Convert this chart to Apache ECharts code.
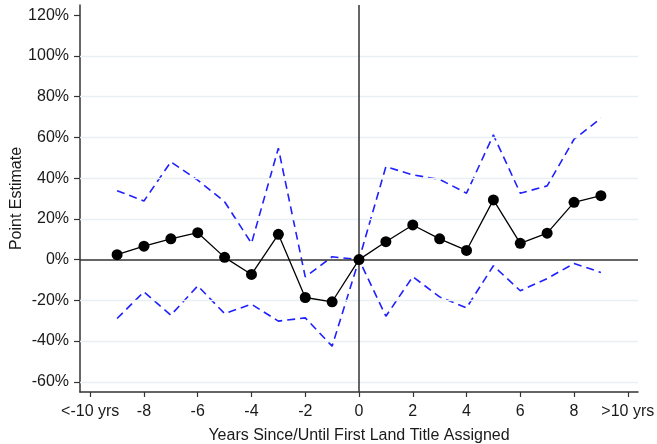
<!DOCTYPE html>
<html>
<head>
<meta charset="utf-8">
<script src="https://cdn.jsdelivr.net/npm/echarts@6/dist/echarts.min.js"></script>
<style>html,body{margin:0;padding:0;background:#fff}#c{width:657px;height:444px}</style>
</head>
<body>
<div id="c"></div>
<script>
const years = [-9,-8,-7,-6,-5,-4,-3,-2,-1,0,1,2,3,4,5,6,7,8,9];
const pointEstimate = [2.4,6.6,10.2,13.2,1.1,-7.3,12.4,-18.6,-20.7,0,8.8,17.0,10.2,4.5,29.3,8.0,13.0,28.1,31.4];
const upperCI = [33.8,28.8,48.0,39.0,28.4,8.0,54.7,-8.5,1.4,0,45.6,41.6,39.4,32.6,61.2,32.6,36.2,59.1,69.4];
const lowerCI = [-28.9,-15.8,-27.3,-12.9,-26.5,-21.9,-30.2,-28.6,-42.5,0,-27.8,-8.4,-18.3,-23.7,-3.0,-15.3,-9.3,-1.9,-6.3];
const xTicks = [-10,-8,-6,-4,-2,0,2,4,6,8,10];
const xTickLabels = {'-10':'<-10 yrs','10':'>10 yrs'};
const yTicks = [-60,-40,-20,0,20,40,60,80,100,120];
const yGrid = [-60,-40,-20,20,40,60,80,100];

const pair = (arr) => years.map((x,i)=>[x,arr[i]]);
const font = 'Liberation Sans, Arial, sans-serif';
const chart = echarts.init(document.getElementById('c'), null, {renderer:'canvas'});
chart.setOption({
  animation:false,
  backgroundColor:'#fff',
  grid:{left:80,right:19,top:5,bottom:52,containLabel:false,outerBoundsMode:'none'},
  xAxis:{
    type:'value', min:-10.38, max:10.38,
    name:'Years Since/Until First Land Title Assigned',
    nameLocation:'middle', nameGap:36, nameMoveOverlap:false,
    nameTextStyle:{color:'#1a1a1a',fontSize:16,fontFamily:font},
    axisLine:{show:true,onZero:false,lineStyle:{color:'#333',width:1.5}},
    axisTick:{show:true,length:5,customValues:xTicks,lineStyle:{color:'#333',width:1.2}},
    axisLabel:{customValues:xTicks,color:'#1a1a1a',fontSize:16,fontFamily:font,margin:12,
      formatter:(v)=> xTickLabels[String(v)] || String(v)},
    splitLine:{show:false}
  },
  yAxis:{
    type:'value', min:-65, max:125,
    name:'Point Estimate', nameLocation:'middle', nameGap:55, nameRotate:90, nameMoveOverlap:false,
    nameTextStyle:{color:'#1a1a1a',fontSize:16,fontFamily:font},
    axisLine:{show:true,onZero:false,lineStyle:{color:'#333',width:1.5}},
    axisTick:{show:true,length:6,customValues:yTicks,lineStyle:{color:'#333',width:1.2}},
    axisLabel:{customValues:yTicks,color:'#1a1a1a',fontSize:16,fontFamily:font,margin:11,
      formatter:(v)=> v+'%'},
    splitLine:{show:false}
  },
  series:[
    {type:'line',data:[],symbol:'none',silent:true,z:1,
      markLine:{silent:true,symbol:'none',label:{show:false},animation:false,
        lineStyle:{color:'#e8f0f1',width:1.3,type:'solid'},
        data:yGrid.map(v=>({yAxis:v}))}},
    {type:'line',data:pair(upperCI),symbol:'none',silent:true,
      lineStyle:{color:'#1f1fff',width:1.6,type:[8,5]},z:3,
      markLine:{silent:true,symbol:'none',label:{show:false},animation:false,
        lineStyle:{color:'#333',width:1.5,type:'solid'},
        data:[{xAxis:0},{yAxis:0}]}},
    {type:'line',data:pair(lowerCI),symbol:'none',silent:true,
      lineStyle:{color:'#1f1fff',width:1.6,type:[8,5]},z:3},
    {type:'line',data:pair(pointEstimate),symbol:'circle',symbolSize:11,silent:true,
      itemStyle:{color:'#000'},lineStyle:{color:'#000',width:1.3},z:5}
  ]
});
</script>
</body>
</html>
